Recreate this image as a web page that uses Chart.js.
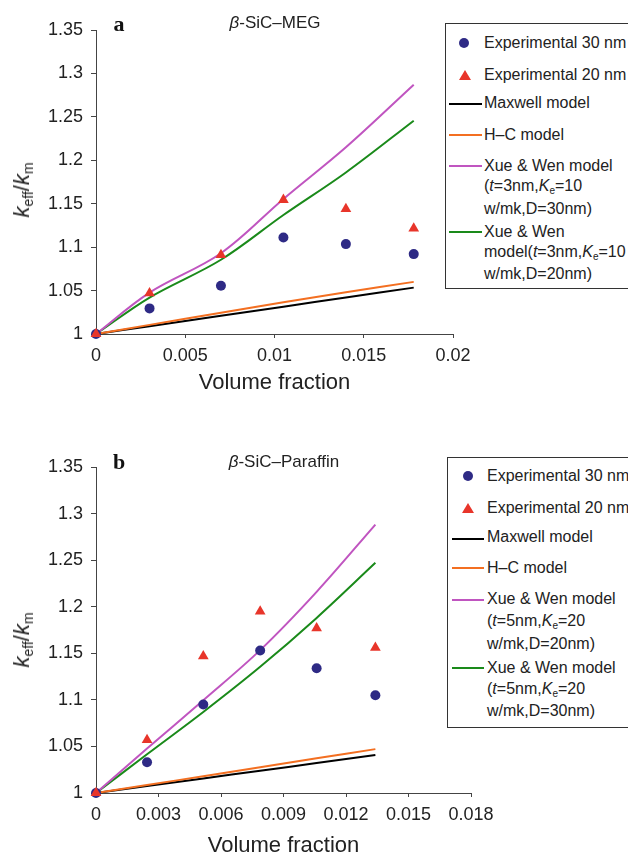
<!DOCTYPE html>
<html><head><meta charset="utf-8">
<script src="https://cdn.jsdelivr.net/npm/chart.js@4.4.0/dist/chart.umd.min.js"></script>
<style>
html,body{margin:0;padding:0;background:#fff;overflow:hidden;}
body{width:628px;height:855px;position:relative;font-family:"Liberation Sans",Arial,sans-serif;color:#222;}
canvas{position:absolute;left:0;}
.c{position:absolute;white-space:nowrap;transform:translate(-50%,-50%);line-height:1;}
.panel{font-family:"Liberation Serif","Times New Roman",serif;font-weight:bold;font-size:22px;color:#111;}
.sub{font-size:17px;}
.ytitle{font-size:22px;transform:translate(-50%,-50%) rotate(-90deg);}
.ytitle sub{font-size:14px;vertical-align:-4px;font-style:normal;}
.box{position:absolute;border:1px solid #333;background:#fff;width:230px;}
.lt{position:absolute;white-space:nowrap;font-size:16px;line-height:20px;height:20px;color:#222;}
.lt sub{font-size:10px;vertical-align:-3px;}
.ln{position:absolute;height:2px;}
.dot{position:absolute;width:10px;height:10px;border-radius:50%;background:#2e2a85;}
.tri{position:absolute;width:0;height:0;border-left:6px solid transparent;border-right:6px solid transparent;border-bottom:10px solid #e8352a;}
</style>
</head><body>
<canvas id="ca" width="628" height="400" style="top:0;width:628px;height:400px"></canvas>
<canvas id="cb" width="628" height="425" style="top:430px;width:628px;height:425px"></canvas>

<div class="c panel" style="left:119px;top:24px">a</div>
<div class="c sub" style="left:275px;top:22px"><i>β</i>-SiC–MEG</div>
<div class="c ytitle" style="left:23px;top:190px"><i>k</i><sub>eff</sub>/<i>k</i><sub>m</sub></div>

<div class="c panel" style="left:119px;top:462px">b</div>
<div class="c sub" style="left:284px;top:461px"><i>β</i>-SiC–Paraffin</div>
<div class="c ytitle" style="left:23px;top:640px"><i>k</i><sub>eff</sub>/<i>k</i><sub>m</sub></div>

<!-- legend a -->
<div class="box" style="left:445px;top:23px;height:264px"></div>
<div class="dot" style="left:459px;top:38px"></div>
<div class="lt" style="left:484px;top:33px">Experimental 30 nm</div>
<div class="tri" style="left:459px;top:70px"></div>
<div class="lt" style="left:484px;top:65px">Experimental 20 nm</div>
<div class="ln" style="left:449px;width:33px;top:103px;background:#000"></div>
<div class="lt" style="left:484px;top:93px">Maxwell model</div>
<div class="ln" style="left:449px;width:33px;top:134px;background:#f36f21"></div>
<div class="lt" style="left:484px;top:125px">H–C model</div>
<div class="ln" style="left:449px;width:33px;top:165px;background:#c055c0"></div>
<div class="lt" style="left:484px;top:156px">Xue &amp; Wen model</div>
<div class="lt" style="left:484px;top:176px">(<i>t</i>=3nm,<i>K</i><sub>e</sub>=10</div>
<div class="lt" style="left:484px;top:199px">w/mk,D=30nm)</div>
<div class="ln" style="left:449px;width:33px;top:231px;background:#1a8a1a"></div>
<div class="lt" style="left:484px;top:222px">Xue &amp; Wen</div>
<div class="lt" style="left:484px;top:242px">model(<i>t</i>=3nm,<i>K</i><sub>e</sub>=10</div>
<div class="lt" style="left:484px;top:264px">w/mk,D=20nm)</div>

<!-- legend b -->
<div class="box" style="left:447px;top:457px;height:269px"></div>
<div class="dot" style="left:463px;top:471px"></div>
<div class="lt" style="left:487px;top:466px">Experimental 30 nm</div>
<div class="tri" style="left:462px;top:503px"></div>
<div class="lt" style="left:487px;top:498px">Experimental 20 nm</div>
<div class="ln" style="left:452px;width:32px;top:538px;background:#000"></div>
<div class="lt" style="left:487px;top:527px">Maxwell model</div>
<div class="ln" style="left:452px;width:32px;top:567px;background:#f36f21"></div>
<div class="lt" style="left:487px;top:558px">H–C model</div>
<div class="ln" style="left:452px;width:32px;top:599px;background:#c055c0"></div>
<div class="lt" style="left:487px;top:589px">Xue &amp; Wen model</div>
<div class="lt" style="left:487px;top:611px">(<i>t</i>=5nm,<i>K</i><sub>e</sub>=20</div>
<div class="lt" style="left:487px;top:634px">w/mk,D=20nm)</div>
<div class="ln" style="left:452px;width:32px;top:667px;background:#1a8a1a"></div>
<div class="lt" style="left:487px;top:658px">Xue &amp; Wen model</div>
<div class="lt" style="left:487px;top:679px">(<i>t</i>=5nm,<i>K</i><sub>e</sub>=20</div>
<div class="lt" style="left:487px;top:701px">w/mk,D=30nm)</div>

<script>
// ---- Panel a: beta-SiC-MEG ----
const xA = [0, 0.003, 0.007, 0.0105, 0.014, 0.0178];
const expA30 = [1, 1.0295, 1.0556, 1.111, 1.1035, 1.092];
const expA20 = [1, 1.047, 1.091, 1.1545, 1.144, 1.1215];
const maxwellA = [1, 1.009, 1.021, 1.0315, 1.042, 1.0534];
const hcA = [1, 1.0105, 1.0245, 1.0365, 1.048, 1.060];
const xueA_D30 = [1, 1.0477, 1.093, 1.1555, 1.215, 1.287];
const xueA_D20 = [1, 1.042, 1.0855, 1.137, 1.186, 1.2456];
const xTicksA = [0, 0.005, 0.01, 0.015, 0.02];

// ---- Panel b: beta-SiC-Paraffin ----
const xB = [0, 0.00245, 0.00515, 0.00788, 0.01059, 0.01341];
const expB30 = [1, 1.033, 1.095, 1.153, 1.134, 1.105];
const expB20 = [1, 1.057, 1.147, 1.195, 1.177, 1.156];
const maxwellB = [1, 1.0074, 1.0156, 1.0239, 1.0321, 1.0407];
const hcB = [1, 1.0086, 1.018, 1.0277, 1.0372, 1.0471];
const xueB_D20 = [1, 1.0477, 1.0996, 1.1534, 1.216, 1.2882];
const xueB_D30 = [1, 1.0416, 1.087, 1.1355, 1.188, 1.2471];
const xTicksB = [0, 0.003, 0.006, 0.009, 0.012, 0.015, 0.018];

const yTicks = [1, 1.05, 1.1, 1.15, 1.2, 1.25, 1.3, 1.35];

const FONT = '"Liberation Sans", Arial, sans-serif';
const C_DOT = '#2e2a85', C_TRI = '#e8352a', C_MAX = '#000000', C_HC = '#f36f21', C_MAG = '#c055c0', C_GRN = '#1a8a1a';

const pts = (xs, ys) => xs.map((x, i) => ({x: x, y: ys[i]}));
const fmt = v => String(parseFloat(Number(v).toFixed(4)));

function build(id, xs, e30, e20, mx, hc, mag, grn, xTicks, xMax, layout) {
  const lineDs = (label, ys, color, order) => ({
    label, data: pts(xs, ys), showLine: true, borderColor: color, backgroundColor: color,
    borderWidth: 2, pointRadius: 0, tension: 0.35, clip: false, order
  });
  return new Chart(document.getElementById(id), {
    type: 'scatter',
    data: {
      datasets: [
        {label: 'Experimental 20 nm', data: pts(xs, e20), pointStyle: 'triangle', pointRadius: 6.2,
         backgroundColor: C_TRI, borderColor: C_TRI, borderWidth: 0, clip: false, order: 0},
        {label: 'Experimental 30 nm', data: pts(xs, e30), pointStyle: 'circle', pointRadius: 5,
         backgroundColor: C_DOT, borderColor: C_DOT, borderWidth: 0, clip: false, order: 1},
        lineDs('Maxwell model', mx, C_MAX, 5),
        lineDs('H–C model', hc, C_HC, 4),
        lineDs('Xue & Wen (magenta)', mag, C_MAG, 2),
        lineDs('Xue & Wen (green)', grn, C_GRN, 3)
      ]
    },
    options: {
      responsive: false, animation: false, devicePixelRatio: 1,
      events: [],
      layout: {padding: {left: 0, top: layout.top, right: layout.right, bottom: 0}},
      plugins: {legend: {display: false}, tooltip: {enabled: false}},
      scales: {
        x: {
          type: 'linear', min: 0, max: xMax,
          afterBuildTicks: s => { s.ticks = xTicks.map(v => ({value: v})); },
          afterFit: s => { s.height = layout.xh; },
          ticks: {font: {family: FONT, size: 18}, color: '#222', padding: 7, maxRotation: 0, autoSkip: false, callback: v => fmt(v)},
          grid: {display: true, drawOnChartArea: false, drawTicks: true, tickLength: 4, color: '#444', lineWidth: 1},
          border: {display: true, color: '#444', width: 1},
          title: {display: true, text: 'Volume fraction', color: '#222', font: {family: FONT, size: 22, lineHeight: 1}, padding: {top: 0, bottom: layout.tpb}}
        },
        y: {
          type: 'linear', min: 1, max: 1.35,
          afterBuildTicks: s => { s.ticks = yTicks.map(v => ({value: v})); },
          afterFit: s => { s.width = 96; },
          ticks: {font: {family: FONT, size: 18}, color: '#222', padding: 8, autoSkip: false, callback: v => fmt(v)},
          grid: {display: true, drawOnChartArea: false, drawTicks: true, tickLength: 5, color: '#444', lineWidth: 1},
          border: {display: true, color: '#444', width: 1}
        }
      }
    }
  });
}

build('ca', xA, expA30, expA20, maxwellA, hcA, xueA_D30, xueA_D20, xTicksA, 0.02, {top: 30, right: 175, xh: 66, tpb: 6});
build('cb', xB, expB30, expB20, maxwellB, hcB, xueB_D20, xueB_D30, xTicksB, 0.018, {top: 37, right: 157, xh: 62, tpb: -2});
</script>
</body></html>
